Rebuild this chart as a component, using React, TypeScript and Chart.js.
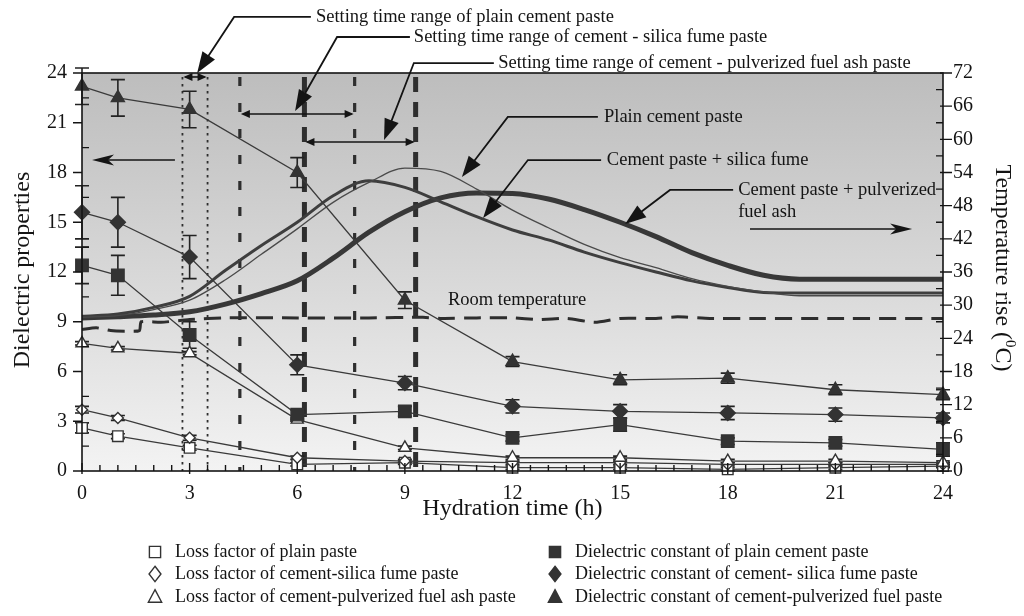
import { useEffect, useRef } from 'react';
import { Chart, registerables } from 'chart.js';

Chart.register(...registerables);

const FONT = "'Liberation Serif', 'Times New Roman', Times, serif";
const INK = '#141414';
const MARK = '#333333';
const LINE = '#3a3a3a';

// Sampling times of the dielectric measurements (h)
const hours = [0, 1, 3, 6, 9, 12, 15, 18, 21, 24];

// Loss factor (open markers)
const lossPlain = [2.6, 2.1, 1.4, 0.4, 0.5, 0.2, 0.2, 0.1, 0.2, 0.3];
const lossSilica = [3.7, 3.2, 2.0, 0.8, 0.6, 0.5, 0.5, 0.4, 0.4, 0.4];
const lossPfa = [7.7, 7.4, 7.1, 3.1, 1.4, 0.8, 0.8, 0.6, 0.6, 0.5];

// Dielectric constant (filled markers)
const constPlain = [12.4, 11.8, 8.2, 3.4, 3.6, 2.0, 2.8, 1.8, 1.7, 1.3];
const constSilica = [15.6, 15.0, 12.9, 6.4, 5.3, 3.9, 3.6, 3.5, 3.4, 3.2];
const constPfa = [23.2, 22.5, 21.8, 18.0, 10.3, 6.6, 5.5, 5.6, 4.9, 4.6];

// Spread (±) drawn as error bars
const errLossPlain = [0.3, 0.15, 0.15, 0.1, 0.1, 0.1, 0.1, 0.1, 0.1, 0.1];
const errLossSilica = [0.2, 0.15, 0.15, 0.1, 0.1, 0.1, 0.1, 0.1, 0.1, 0.1];
const errLossPfa = [0.1, 0.1, 0.1, 0.1, 0.1, 0.1, 0.1, 0.1, 0.1, 0.1];
const errConstPlain = [1.1, 1.2, 0.8, 0.3, 0.3, 0.2, 0.4, 0.2, 0.2, 0.4];
const errConstSilica = [1.6, 1.5, 1.3, 0.6, 0.4, 0.4, 0.4, 0.4, 0.4, 0.3];
const errConstPfa = [1.1, 1.1, 1.1, 0.9, 0.5, 0.3, 0.3, 0.3, 0.3, 0.3];

// Temperature rise of the pastes (°C), read hourly
const curveHours = [0, 1, 2, 3, 4, 5, 6, 7, 8, 9, 10, 11, 12, 13, 14, 15, 16, 17, 18, 19, 20, 21, 22, 23, 24];
const tempPlain = [27.8, 28.1, 29.2, 30.9, 34.6, 39.2, 43.8, 48.6, 52.2, 54.8, 54.2, 51.0, 47.2, 44.0, 41.0, 38.6, 36.8, 34.8, 33.4, 32.4, 31.7, 31.7, 31.7, 31.7, 31.7];
const tempSilica = [28.0, 28.4, 29.6, 31.6, 36.3, 40.8, 45.0, 49.8, 52.5, 51.3, 48.7, 46.0, 43.6, 41.8, 39.6, 37.7, 36.0, 34.4, 33.2, 32.3, 32.2, 32.2, 32.2, 32.2, 32.2];
const tempPfa = [27.7, 27.9, 28.2, 28.8, 30.2, 32.1, 34.4, 38.5, 43.2, 46.9, 49.4, 50.3, 50.2, 49.2, 47.3, 45.0, 42.4, 39.5, 37.2, 35.4, 34.7, 34.7, 34.7, 34.7, 34.7];

// Room temperature log (°C)
const roomHours = [0, 0.4, 0.8, 1.2, 1.6, 1.65, 2.2, 3, 4, 6, 8, 9.5, 10, 11, 12, 12.7, 13.5, 14.3, 15, 16, 16.6, 17.5, 19, 21, 24];
const roomTemp = [25.6, 25.9, 25.4, 25.3, 25.4, 27.0, 26.9, 27.4, 27.7, 27.7, 27.7, 27.8, 27.6, 27.7, 27.7, 27.4, 27.6, 26.9, 27.6, 27.6, 27.9, 27.6, 27.6, 27.6, 27.6];

// Setting time ranges (h)
const setPlain = [2.8, 3.5];
const setSilica = [4.4, 7.6];
const setPfa = [6.2, 9.3];

const xTickStep = 3;
const leftTickStep = 3;
const rightTickStep = 6;

const pts = (xs: number[], ys: number[]) => xs.map((x, i) => ({ x, y: ys[i] }));

type P = [number, number]; // [hour, dielectric-axis value]

// Labelled leader arrows: text anchor, line start, elbow, arrow tip
const callouts: { text: string[]; at: P; start: P; elbow: P; tip: P }[] = [
  { text: ['Setting time range of plain cement paste'], at: [6.52, 27.38], start: [6.38, 27.38], elbow: [4.24, 27.38], tip: [3.21, 24.0] },
  { text: ['Setting time range of cement - silica fume paste'], at: [9.25, 26.17], start: [9.14, 26.17], elbow: [7.11, 26.17], tip: [5.94, 21.71] },
  { text: ['Setting time range of cement - pulverized fuel ash paste'], at: [11.6, 24.6], start: [11.48, 24.6], elbow: [9.25, 24.6], tip: [8.42, 19.96] },
  { text: ['Plain cement paste'], at: [14.55, 21.35], start: [14.38, 21.35], elbow: [11.87, 21.35], tip: [10.59, 17.73] },
  { text: ['Cement paste + silica fume'], at: [14.63, 18.75], start: [14.47, 18.75], elbow: [12.43, 18.75], tip: [11.18, 15.26] },
  { text: ['Cement paste + pulverized', 'fuel ash'], at: [18.29, 16.95], start: [18.15, 16.95], elbow: [16.39, 16.95], tip: [15.14, 14.89] },
];

// Double-headed range arrows: [from h, to h, level]
const rangeArrows: [number, number, number][] = [
  [setPlain[0], setPlain[1], 23.76],
  [setSilica[0], setSilica[1], 21.53],
  [setPfa[0], setPfa[1], 19.84],
];

const legendLeft = ['Loss factor of plain paste', 'Loss factor of cement-silica fume paste', 'Loss factor of cement-pulverized fuel ash paste'];
const legendRight = ['Dielectric constant of plain cement paste', 'Dielectric constant of cement- silica fume paste', 'Dielectric constant of cement-pulverized fuel paste'];
const legendShapes = ['square', 'diamond', 'triangle'];

function marker(ctx: CanvasRenderingContext2D, shape: string, x: number, y: number, s: number, filled: boolean) {
  ctx.beginPath();
  if (shape === 'square') {
    ctx.rect(x - s * 0.8, y - s * 0.8, s * 1.6, s * 1.6);
  } else if (shape === 'diamond') {
    ctx.moveTo(x, y - s * 1.1);
    ctx.lineTo(x + s * 0.85, y);
    ctx.lineTo(x, y + s * 1.1);
    ctx.lineTo(x - s * 0.85, y);
    ctx.closePath();
  } else {
    ctx.moveTo(x, y - s * 1.05);
    ctx.lineTo(x + s * 0.95, y + s * 0.75);
    ctx.lineTo(x - s * 0.95, y + s * 0.75);
    ctx.closePath();
  }
  ctx.fillStyle = filled ? MARK : '#ffffff';
  ctx.fill();
  ctx.lineWidth = 1.4;
  ctx.strokeStyle = MARK;
  ctx.stroke();
}

function arrowHead(ctx: CanvasRenderingContext2D, fx: number, fy: number, tx: number, ty: number, len: number, half: number, notch = 0) {
  const a = Math.atan2(ty - fy, tx - fx);
  const c = Math.cos(a), s = Math.sin(a);
  const bx = tx - c * len, by = ty - s * len;
  ctx.beginPath();
  ctx.moveTo(tx, ty);
  ctx.lineTo(bx - s * half, by + c * half);
  ctx.lineTo(tx - c * (len - notch), ty - s * (len - notch));
  ctx.lineTo(bx + s * half, by - c * half);
  ctx.closePath();
  ctx.fill();
}

const decor = {
  id: 'decor',
  beforeDraw(chart: any) {
    const { ctx, chartArea: a } = chart;
    ctx.save();
    ctx.fillStyle = '#ffffff';
    ctx.fillRect(0, 0, chart.width, chart.height);
    const g = ctx.createLinearGradient(0, a.top, 0, a.bottom);
    g.addColorStop(0, '#bdbdbd');
    g.addColorStop(0.55, '#dadada');
    g.addColorStop(1, '#f3f3f3');
    ctx.fillStyle = g;
    ctx.fillRect(a.left, a.top, a.right - a.left, a.bottom - a.top);
    ctx.restore();
  },
  beforeDatasetsDraw(chart: any) {
    const { ctx, chartArea: a, scales } = chart;
    const X = scales.x, Y = scales.y;
    ctx.save();
    ctx.strokeStyle = '#2e2e2e';
    const vline = (h: number, w: number, dash: number[]) => {
      const px = X.getPixelForValue(h);
      ctx.lineWidth = w;
      ctx.setLineDash(dash);
      ctx.beginPath();
      ctx.moveTo(px, a.top + 4);
      ctx.lineTo(px, a.bottom);
      ctx.stroke();
    };
    setPlain.forEach((h) => vline(h, 1.8, [2.5, 4.5]));
    setSilica.forEach((h) => vline(h, 3.2, [9, 17]));
    setPfa.forEach((h) => vline(h, 5, [15, 10]));
    ctx.setLineDash([]);

    // error bars
    const bars: [number[], number[]][] = [
      [lossPlain, errLossPlain], [lossSilica, errLossSilica], [lossPfa, errLossPfa],
      [constPlain, errConstPlain], [constSilica, errConstSilica], [constPfa, errConstPfa],
    ];
    ctx.strokeStyle = '#222222';
    ctx.lineWidth = 1.6;
    bars.forEach(([vals, errs]) => {
      hours.forEach((h, i) => {
        const px = X.getPixelForValue(h);
        const t = Y.getPixelForValue(vals[i] + errs[i]);
        const b = Y.getPixelForValue(vals[i] - errs[i]);
        ctx.beginPath();
        ctx.moveTo(px, t); ctx.lineTo(px, b);
        ctx.moveTo(px - 7, t); ctx.lineTo(px + 7, t);
        ctx.moveTo(px - 7, b); ctx.lineTo(px + 7, b);
        ctx.stroke();
      });
    });
    ctx.restore();
  },
  afterDatasetsDraw(chart: any) {
    const { ctx, chartArea: a, scales } = chart;
    const X = scales.x, Y = scales.y, Y2 = scales.y2;
    const px = (p: P) => [X.getPixelForValue(p[0]), Y.getPixelForValue(p[1])];
    ctx.save();

    // frame and ticks
    ctx.strokeStyle = INK;
    ctx.lineWidth = 1.6;
    ctx.strokeRect(a.left, a.top, a.right - a.left, a.bottom - a.top);
    ctx.lineWidth = 1.4;
    ctx.beginPath();
    for (let h = 0; h <= 24.001; h += 0.5) {
      const x = X.getPixelForValue(h);
      const major = Math.abs(h % xTickStep) < 1e-6;
      ctx.moveTo(x, a.bottom + (major ? 3 : 0));
      ctx.lineTo(x, a.bottom - (major ? 8 : 6));
    }
    for (let v = 0; v <= 24.001; v += leftTickStep / 2) {
      const y = Y.getPixelForValue(v);
      const major = Math.abs(v % leftTickStep) < 1e-6;
      if (major) { ctx.moveTo(a.left - 9, y); ctx.lineTo(a.left, y); }
      else { ctx.moveTo(a.left, y); ctx.lineTo(a.left + 7, y); }
    }
    for (let t = 0; t <= 72.001; t += rightTickStep / 2) {
      const y = Y2.getPixelForValue(t);
      const major = Math.abs(t % rightTickStep) < 1e-6;
      if (major) { ctx.moveTo(a.right - 3, y); ctx.lineTo(a.right + 9, y); }
      else { ctx.moveTo(a.right - 7, y); ctx.lineTo(a.right, y); }
    }
    ctx.stroke();

    // range arrows
    ctx.fillStyle = INK;
    ctx.lineWidth = 1.6;
    rangeArrows.forEach(([h0, h1, v]) => {
      const [x0, y] = px([h0, v]);
      const [x1] = px([h1, v]);
      ctx.beginPath();
      ctx.moveTo(x0 + 3, y); ctx.lineTo(x1 - 3, y);
      ctx.stroke();
      arrowHead(ctx, x1, y, x0 + 1, y, 9, 4);
      arrowHead(ctx, x0, y, x1 - 1, y, 9, 4);
    });

    // callouts
    ctx.font = `18.5px ${FONT}`;
    ctx.textBaseline = 'middle';
    ctx.textAlign = 'left';
    callouts.forEach((c) => {
      const [sx, sy] = px(c.start);
      const [ex, ey] = px(c.elbow);
      const [tx, ty] = px(c.tip);
      ctx.lineWidth = 1.8;
      ctx.beginPath();
      ctx.moveTo(sx, sy); ctx.lineTo(ex, ey);
      const a2 = Math.atan2(ty - ey, tx - ex);
      ctx.lineTo(tx - Math.cos(a2) * 12, ty - Math.sin(a2) * 12);
      ctx.stroke();
      arrowHead(ctx, ex, ey, tx, ty, 21, 7.5);
      const [ax, ay] = px(c.at);
      c.text.forEach((t, i) => ctx.fillText(t, ax, ay + i * 22));
    });

    const [rx, ry] = px([10.2, 10.31]);
    ctx.fillText('Room temperature', rx, ry);

    // axis pointers
    ctx.lineWidth = 1.6;
    const pointer = (from: P, to: P) => {
      const [fx, fy] = px(from);
      const [tx, ty] = px(to);
      ctx.beginPath();
      ctx.moveTo(fx, fy);
      ctx.lineTo(tx + (fx < tx ? -10 : 10), ty);
      ctx.stroke();
      arrowHead(ctx, fx, fy, tx, ty, 22, 5.5, 6);
    };
    pointer([2.59, 18.75], [0.28, 18.75]);
    pointer([18.62, 14.59], [23.14, 14.59]);

    // axis titles
    ctx.fillStyle = INK;
    ctx.textAlign = 'center';
    ctx.font = `24px ${FONT}`;
    ctx.fillText('Hydration time (h)', (a.left + a.right) / 2, 509);

    ctx.save();
    ctx.translate(23, 270);
    ctx.rotate(-Math.PI / 2);
    ctx.fillText('Dielectric properties', 0, 0);
    ctx.restore();

    ctx.save();
    ctx.translate(1002, 268);
    ctx.rotate(Math.PI / 2);
    ctx.textAlign = 'left';
    const parts: [string, number, number][] = [['Temperature rise (', 24, 0], ['0', 15, -8], ['C)', 24, 0]];
    let total = 0;
    parts.forEach(([t, f]) => { ctx.font = `${f}px ${FONT}`; total += ctx.measureText(t).width; });
    let cx = -total / 2;
    parts.forEach(([t, f, dy]) => {
      ctx.font = `${f}px ${FONT}`;
      ctx.fillText(t, cx, dy);
      cx += ctx.measureText(t).width;
    });
    ctx.restore();

    // legend
    ctx.font = `18px ${FONT}`;
    ctx.textAlign = 'left';
    const rows = [552, 574, 597];
    legendShapes.forEach((shape, i) => {
      marker(ctx, shape, 155, rows[i], 7, false);
      ctx.fillStyle = INK;
      ctx.fillText(legendLeft[i], 175, rows[i]);
      marker(ctx, shape, 555, rows[i], 7, true);
      ctx.fillStyle = INK;
      ctx.fillText(legendRight[i], 575, rows[i]);
    });
    ctx.restore();
  },
};

const dataSeries = (label: string, vals: number[], style: string, r: number, filled: boolean) => ({
  label,
  data: pts(hours, vals),
  yAxisID: 'y',
  borderColor: LINE,
  borderWidth: 1.3,
  pointStyle: style,
  pointRadius: r,
  pointBorderWidth: 1.4,
  pointBorderColor: MARK,
  pointBackgroundColor: filled ? MARK : '#ffffff',
  backgroundColor: filled ? MARK : '#ffffff',
  tension: 0,
  clip: false as const,
});

const tempSeries = (label: string, vals: number[], width: number, color: string) => ({
  label,
  data: pts(curveHours, vals),
  yAxisID: 'y2',
  borderColor: color,
  borderWidth: width,
  pointRadius: 0,
  cubicInterpolationMode: 'monotone' as const,
  clip: false as const,
});

export default function App() {
  const ref = useRef<HTMLCanvasElement>(null);
  useEffect(() => {
    const canvas = ref.current!;
    const tickFont = { family: FONT, size: 20 };
    const chart = new Chart(canvas, {
      type: 'line',
      data: {
        datasets: [
          dataSeries(legendRight[2], constPfa, 'triangle', 7.5, true),
          dataSeries(legendRight[1], constSilica, 'rectRot', 7.5, true),
          dataSeries(legendRight[0], constPlain, 'rect', 8.8, true),
          dataSeries(legendLeft[2], lossPfa, 'triangle', 7, false),
          dataSeries(legendLeft[1], lossSilica, 'rectRot', 5.5, false),
          dataSeries(legendLeft[0], lossPlain, 'rect', 7.5, false),
          tempSeries('Plain cement paste', tempPlain, 1.3, '#4a4a4a'),
          tempSeries('Cement paste + silica fume', tempSilica, 3, '#3e3e3e'),
          tempSeries('Cement paste + pulverized fuel ash', tempPfa, 5, '#383838'),
          {
            label: 'Room temperature',
            data: pts(roomHours, roomTemp),
            yAxisID: 'y2',
            borderColor: '#2e2e2e',
            borderWidth: 3,
            borderDash: [17, 9],
            pointRadius: 0,
            tension: 0.2,
          },
        ] as any,
      },
      options: {
        animation: false,
        responsive: false,
        devicePixelRatio: 1,
        layout: { padding: { left: 10, right: 10, top: 73, bottom: 105 } },
        scales: {
          x: {
            type: 'linear', min: 0, max: 24,
            ticks: { stepSize: xTickStep, font: tickFont, color: INK, padding: 11, autoSkip: false, maxRotation: 0 },
            grid: { display: false, drawTicks: false },
            border: { display: false },
            afterFit: (s: any) => { s.height = 40; },
          },
          y: {
            position: 'left', min: 0, max: 24,
            ticks: { stepSize: leftTickStep, font: tickFont, color: INK, padding: 15, autoSkip: false },
            grid: { display: false, drawTicks: false },
            border: { display: false },
            afterFit: (s: any) => { s.width = 72; },
          },
          y2: {
            position: 'right', min: 0, max: 72,
            ticks: { stepSize: rightTickStep, font: tickFont, color: INK, padding: 10, autoSkip: false },
            grid: { display: false, drawTicks: false },
            border: { display: false },
            afterFit: (s: any) => { s.width = 71; },
          },
        } as any,
        plugins: { legend: { display: false }, tooltip: { enabled: false } },
      },
      plugins: [decor],
    });
    return () => chart.destroy();
  }, []);

  return (
    <div style={{ position: 'absolute', left: 0, top: 0, width: 1024, height: 616, background: '#ffffff' }}>
      <canvas ref={ref} width={1024} height={616} style={{ display: 'block' }} />
    </div>
  );
}
